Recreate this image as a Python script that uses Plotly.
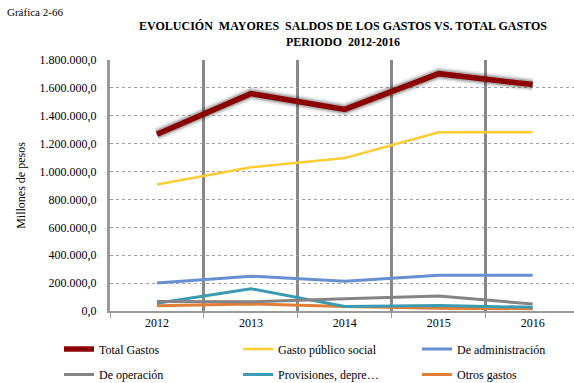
import plotly.graph_objects as go

# Fiscal years on the category axis
years = ["2012", "2013", "2014", "2015", "2016"]

# Expense series (millions of pesos)
total_gastos = [1268000, 1559000, 1446000, 1702000, 1624000]
gasto_publico_social = [907000, 1031000, 1097000, 1282000, 1282000]
de_administracion = [200000, 250000, 214000, 257000, 257000]
de_operacion = [68000, 66000, 88000, 108000, 50000]
provisiones = [55000, 160000, 32000, 40000, 26000]
otros_gastos = [38000, 50000, 32000, 20000, 16000]

y_ticks = [0, 200000, 400000, 600000, 800000, 1000000, 1200000, 1400000, 1600000, 1800000]

SERIF = "Liberation Serif"
x_pos = list(range(len(years)))

fig = go.Figure()

# Soft shadow beneath the total line
for w, a in [(14, 0.06), (11, 0.10), (8.5, 0.18)]:
    fig.add_trace(go.Scatter(
        x=x_pos, y=total_gastos, mode="lines", showlegend=False, hoverinfo="skip",
        line=dict(color=f"rgba(0,0,0,{a})", width=w),
    ))

# name, values, colour, width, legend slot (column, row)
series = [
    ("Total Gastos", total_gastos, "#8B0000", 5.5, (0, 0)),
    ("Gasto público social", gasto_publico_social, "#FFCC33", 2.5, (1, 0)),
    ("De administración", de_administracion, "#6690CF", 3, (2, 0)),
    ("De operación", de_operacion, "#848484", 3, (0, 1)),
    ("Provisiones, depre…", provisiones, "#3A9BB2", 3, (1, 1)),
    ("Otros gastos", otros_gastos, "#E07E35", 3, (2, 1)),
]
col_x = [59, 238, 417]
row_y = [349, 374.5]

legends = {}
# draw small series first so the big ones sit on top
for i, (name, vals, color, width, (c, r)) in reversed(list(enumerate(series))):
    key = "legend" if i == 0 else f"legend{i + 1}"
    fig.add_trace(go.Scatter(
        x=x_pos, y=vals, mode="lines", name=name, legend=key,
        line=dict(color=color, width=width),
    ))
    legends[key] = dict(
        orientation="h", xref="container", yref="container",
        x=col_x[c] / 574, y=1 - row_y[r] / 383,
        xanchor="left", yanchor="middle",
        font=dict(family=SERIF, size=12, color="#000"),
        bgcolor="rgba(0,0,0,0)",
    )

fig.update_layout(
    width=574, height=383,
    margin=dict(l=110, r=0, t=60, b=72),
    paper_bgcolor="white", plot_bgcolor="white",
    separators=",.",
    font=dict(family=SERIF, size=12, color="#000"),
    showlegend=True,
    **legends,
    title=dict(
        text="<b>EVOLUCIÓN\u00a0 MAYORES\u00a0 SALDOS DE LOS GASTOS VS. TOTAL GASTOS<br>"
             "PERIODO\u00a0 2012-2016</b>",
        xref="container", yref="container", x=343 / 574, y=1 - 30 / 383,
        xanchor="center", yanchor="middle",
        font=dict(family=SERIF, size=12, color="#000"),
    ),
    xaxis=dict(
        range=[-0.5, 4.44], tickvals=x_pos, ticktext=years,
        showgrid=False, zeroline=False,
        showline=True, linecolor="#9a9a9a", linewidth=2,
        ticks="", tickfont=dict(family=SERIF, size=12, color="#000"),
        minor=dict(tickvals=[-0.5, 0.5, 1.5, 2.5, 3.5], showgrid=True,
                   gridcolor="#888888", gridwidth=3,
                   ticks="outside", ticklen=5, tickcolor="#9a9a9a", tickwidth=1),
    ),
    yaxis=dict(
        range=[0, 1800000], tickvals=y_ticks, tickformat=",.1f",
        showgrid=True, gridcolor="#a0a0a0", gridwidth=1, griddash="dot",
        zeroline=False, showline=True, linecolor="#999999", linewidth=3,
        ticks="", ticklabelstandoff=8,
        tickfont=dict(family=SERIF, size=12, color="#000"),
        title=dict(text="Millones de pesos",
                   font=dict(family=SERIF, size=12, color="#000"), standoff=12),
    ),
    annotations=[
        dict(text="Gráfica 2-66", xref="paper", yref="paper", x=-105 / 464, y=1 + 48 / 251,
             xanchor="left", yanchor="middle", showarrow=False,
             font=dict(family=SERIF, size=11, color="#000")),
    ],
)

fig.write_html("out.html")
